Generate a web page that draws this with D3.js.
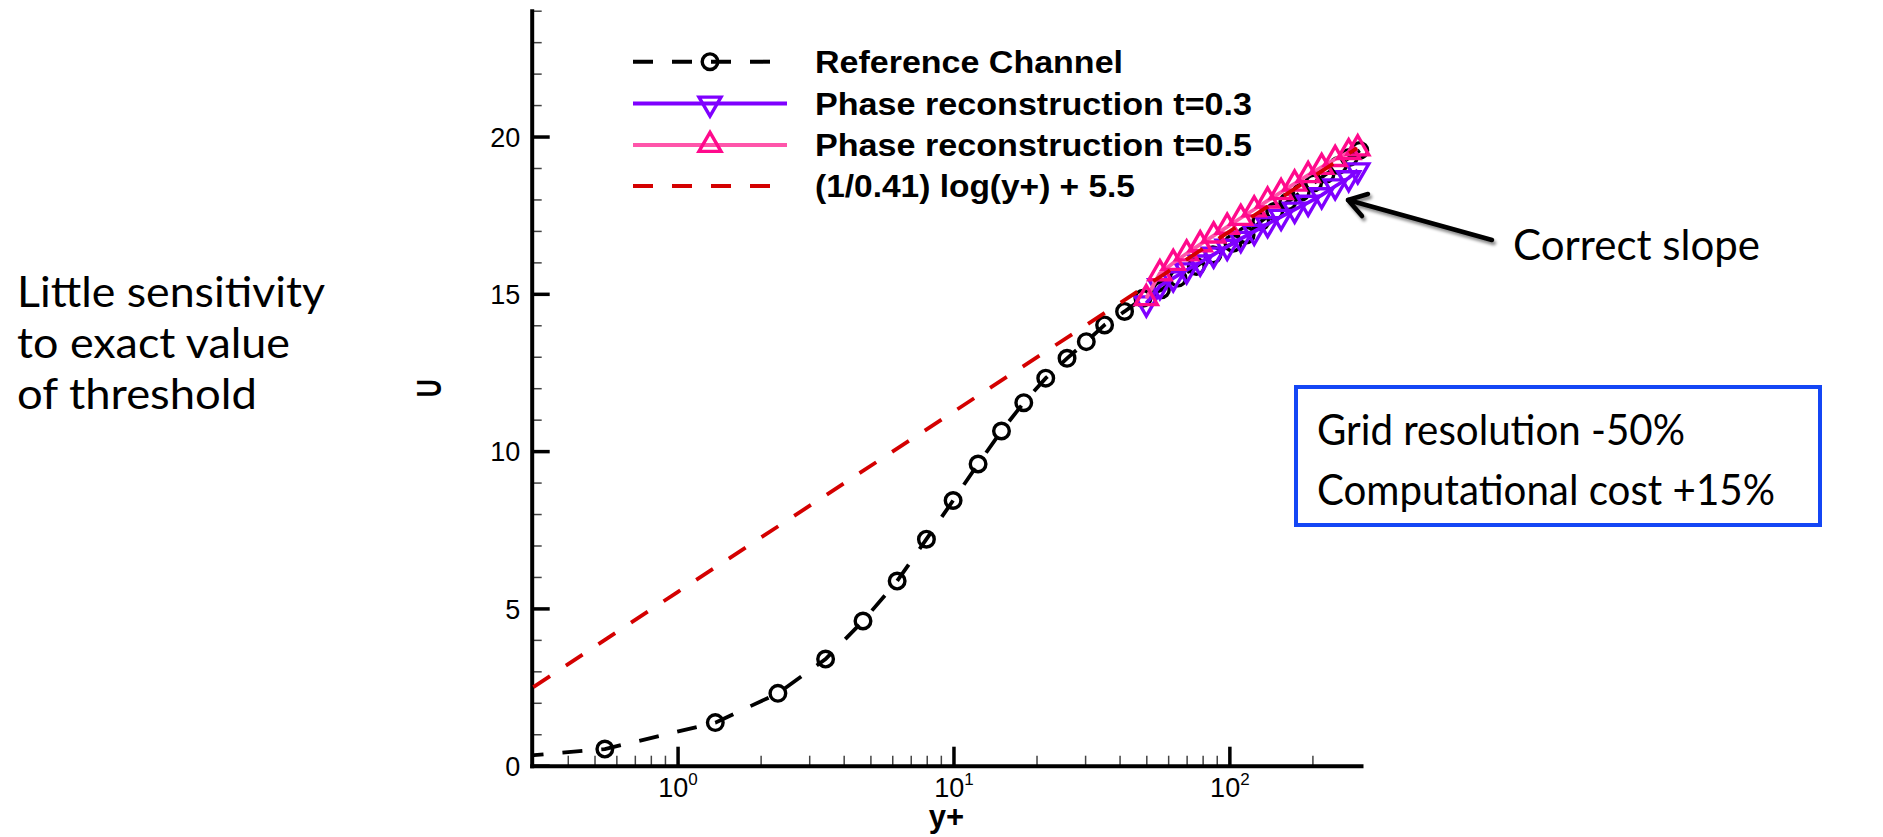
<!DOCTYPE html>
<html><head><meta charset="utf-8">
<script src="https://cdn.jsdelivr.net/npm/d3@7/dist/d3.min.js"></script>
<style>body{margin:0;background:#fff;} svg{display:block;}</style>
</head><body>
<svg id="c" width="1883" height="837"></svg>
<script>
// ---------------- data ----------------
const refYplus = [0.2, 0.545, 1.37, 2.31, 3.44, 4.70, 6.25, 7.98, 9.97, 12.28, 14.93, 17.98, 21.6, 25.8, 30.3, 35.3, 41.7, 48.6, 56.7, 65.1, 75.9, 87.2, 103, 115, 130, 146, 163, 182, 202, 224, 248, 272, 297];
const refU     = [0.2, 0.53, 1.37, 2.30, 3.39, 4.60, 5.87, 7.20, 8.43, 9.59, 10.64, 11.54, 12.32, 12.95, 13.48, 14.01, 14.44, 14.86, 15.13, 15.50, 15.87, 16.24, 16.61, 16.87, 17.30, 17.62, 17.93, 18.23, 18.52, 18.80, 19.08, 19.33, 19.56];

const phaseYplus = [50, 56, 62.6, 70, 78.4, 87.7, 98.2, 110, 123, 137.6, 154, 172.4, 193, 216, 241.8, 270.6, 292];
const phase03U   = [14.70, 15.25, 15.50, 15.75, 16.00, 16.25, 16.50, 16.75, 16.98, 17.22, 17.45, 17.68, 17.90, 18.14, 18.42, 18.68, 18.93];
const phase05U   = [14.86, 15.65, 15.98, 16.28, 16.57, 16.85, 17.13, 17.41, 17.68, 17.96, 18.23, 18.50, 18.77, 19.03, 19.28, 19.50, 19.62];

const logLawYplus = [0.3, 1, 10, 100, 290];
const logLawU     = [2.50, 5.52, 11.25, 16.98, 19.63];

const yMajorTicks = [0, 5, 10, 15, 20];
const yMinorTicks = [1,2,3,4,6,7,8,9,11,12,13,14,16,17,18,19,21,22,23,24];
const xMajorTicks = [1, 10, 100];
const xMinorTicks = [0.4,0.5,0.6,0.7,0.8,0.9,2,3,4,5,6,7,8,9,20,30,40,50,60,70,80,90,200];
const xExponents  = ["0", "1", "2"];

const legendLabels = ["Reference Channel", "Phase reconstruction t=0.3", "Phase reconstruction t=0.5", "(1/0.41) log(y+) + 5.5"];
const sideNote = ["Little sensitivity", "to exact value", "of threshold"];
const boxNote = ["Grid resolution -50%", "Computational cost +15%"];
const arrowNote = "Correct slope";

// ---------------- chart ----------------
const svg = d3.select("#c");
const helv = "'Liberation Sans', Arial, Helvetica, sans-serif";
const cal = "Lato, 'Open Sans', sans-serif";

const x = d3.scaleLog().domain([0.296, 300]).range([531.7, 1361]);
const y = d3.scaleLinear().domain([0, 24]).range([765.7, 10.7]);

const defs = svg.append("defs");
defs.append("clipPath").attr("id", "plotclip").append("rect")
  .attr("x", x.range()[0]).attr("y", 0).attr("width", x.range()[1] - x.range()[0] + 2).attr("height", y(0));
const f = defs.append("filter").attr("id", "shadow").attr("x", "-20%").attr("y", "-50%").attr("width", "140%").attr("height", "200%");
f.append("feDropShadow").attr("dx", 2).attr("dy", 3).attr("stdDeviation", 1.5).attr("flood-color", "#000").attr("flood-opacity", 0.45);

// axes
const yMinor = svg.append("g").attr("transform", `translate(${x.range()[0]},0)`)
  .call(d3.axisLeft(y).tickValues(yMinorTicks).tickSizeInner(-10).tickSizeOuter(0).tickFormat(""));
yMinor.select(".domain").remove();
yMinor.selectAll("line").attr("stroke", "#444").attr("stroke-width", 1.5);

const yAxis = svg.append("g").attr("transform", `translate(${x.range()[0]},0)`)
  .call(d3.axisLeft(y).tickValues(yMajorTicks).tickSizeInner(-18).tickSizeOuter(0).tickPadding(11.5).tickFormat(d3.format("d")));
yAxis.selectAll("line").attr("stroke", "#000").attr("stroke-width", 3.5);
yAxis.selectAll("text").attr("font-family", helv).attr("font-size", 27).attr("fill", "#000").attr("dy", "0.36em");

const xMinor = svg.append("g").attr("transform", `translate(0,${y(0)})`)
  .call(d3.axisBottom(x).tickValues(xMinorTicks).tickSizeInner(-10).tickSizeOuter(0).tickFormat(""));
xMinor.select(".domain").remove();
xMinor.selectAll("line").attr("stroke", "#444").attr("stroke-width", 1.5);

const xAxis = svg.append("g").attr("transform", `translate(0,${y(0)})`)
  .call(d3.axisBottom(x).tickValues(xMajorTicks).tickSizeInner(-19).tickSizeOuter(0).tickFormat(""));
xAxis.selectAll("line").attr("stroke", "#000").attr("stroke-width", 3.5);
xAxis.selectAll(".tick").each(function(d, i) {
  const t = d3.select(this).append("text").attr("y", 31).attr("text-anchor", "middle")
    .attr("font-family", helv).attr("font-size", 27).attr("fill", "#000");
  t.append("tspan").text("10");
  t.append("tspan").attr("font-size", 17).attr("dy", -12).text(xExponents[i]);
});

yAxis.select(".domain").attr("stroke", "#000").attr("stroke-width", 4).attr("stroke-linecap", "square");
xAxis.select(".domain").attr("stroke", "#000").attr("stroke-width", 4).attr("stroke-linecap", "square");

// axis titles
svg.append("text").attr("x", d3.mean(x.range())).attr("y", 827).attr("text-anchor", "middle")
  .attr("font-family", helv).attr("font-weight", "bold").attr("font-size", 31).text("y+");
svg.append("text").attr("transform", `translate(441,${d3.mean(y.range())}) rotate(-90) scale(1,1.4)`)
  .attr("text-anchor", "middle").attr("font-family", helv).attr("font-weight", "bold").attr("font-size", 25).text("U");

// series
const line = d3.line().x(d => x(d[0])).y(d => y(d[1]));
const plot = svg.append("g");

const refData = refYplus.map((v, i) => [v, refU[i]]);
const p03 = phaseYplus.map((v, i) => [v, phase03U[i]]);
const p05 = phaseYplus.map((v, i) => [v, phase05U[i]]);
const logData = logLawYplus.map((v, i) => [v, logLawU[i]]);

const cBlack = "#000", cPurple = "#7f00ff", cPinkLine = "#ff55aa", cPink = "#ff0a8c", cRed = "#d40000";
const triUp = d3.symbol().type(d3.symbolTriangle).size(210);
const mW = 3.4;

// reference
plot.append("path").datum(refData).attr("clip-path", "url(#plotclip)").attr("d", line)
  .attr("fill", "none").attr("stroke", cBlack).attr("stroke-width", 3.8).attr("stroke-dasharray", "20,19");
plot.append("g").selectAll("circle").data(refData.filter(d => d[0] >= x.domain()[0])).join("circle")
  .attr("cx", d => x(d[0])).attr("cy", d => y(d[1])).attr("r", 7.8)
  .attr("fill", "none").attr("stroke", cBlack).attr("stroke-width", mW);

// phase t=0.3
plot.append("path").datum(p03).attr("d", line).attr("fill", "none").attr("stroke", cPurple).attr("stroke-width", 3.8);
plot.append("g").selectAll("path").data(p03).join("path")
  .attr("transform", d => `translate(${x(d[0])},${y(d[1])}) rotate(180)`).attr("d", triUp)
  .attr("fill", "none").attr("stroke", cPurple).attr("stroke-width", mW);

// phase t=0.5
plot.append("path").datum(p05).attr("d", line).attr("fill", "none").attr("stroke", cPinkLine).attr("stroke-width", 3.8);
plot.append("g").selectAll("path").data(p05).join("path")
  .attr("transform", d => `translate(${x(d[0])},${y(d[1])})`).attr("d", triUp)
  .attr("fill", "none").attr("stroke", cPink).attr("stroke-width", mW);

// log law
plot.append("path").datum(logData).attr("clip-path", "url(#plotclip)").attr("d", line)
  .attr("fill", "none").attr("stroke", cRed).attr("stroke-width", 3.8).attr("stroke-dasharray", "20,19");

// legend
const legRowsY = [61.7, 103.5, 145, 186];
const legX1 = 633, legMark = 710, legTextX = 815;
const legWidths = [308, 437, 437, 320];
const leg = svg.append("g");
legendLabels.forEach((lab, i) => {
  const yy = legRowsY[i];
  if (i === 0 || i === 3) {
    leg.append("line").attr("x1", legX1).attr("x2", 770).attr("y1", yy).attr("y2", yy)
      .attr("stroke", i === 0 ? cBlack : cRed).attr("stroke-width", 4).attr("stroke-dasharray", "20,19");
  } else {
    leg.append("line").attr("x1", legX1).attr("x2", 787).attr("y1", yy).attr("y2", yy)
      .attr("stroke", i === 1 ? cPurple : cPinkLine).attr("stroke-width", 4);
  }
  if (i === 0) leg.append("circle").attr("cx", legMark).attr("cy", yy).attr("r", 7.8).attr("fill", "none").attr("stroke", cBlack).attr("stroke-width", mW);
  if (i === 1) leg.append("path").attr("transform", `translate(${legMark},${yy}) rotate(180)`).attr("d", triUp).attr("fill", "none").attr("stroke", cPurple).attr("stroke-width", mW);
  if (i === 2) leg.append("path").attr("transform", `translate(${legMark},${yy})`).attr("d", triUp).attr("fill", "none").attr("stroke", cPink).attr("stroke-width", mW);
  leg.append("text").attr("x", legTextX).attr("y", yy + 11).attr("font-family", helv).attr("font-weight", "bold")
    .attr("font-size", 31).attr("textLength", legWidths[i]).attr("lengthAdjust", "spacingAndGlyphs").text(lab);
});

// annotations
const sideY = [306.5, 358, 409];
const sideW = [308, 273, 240];
sideNote.forEach((s, i) => svg.append("text").attr("x", 17).attr("y", sideY[i]).attr("font-family", cal)
  .attr("font-size", 43).attr("textLength", sideW[i]).attr("lengthAdjust", "spacingAndGlyphs").attr("fill", "#000").text(s));

svg.append("text").attr("x", 1513).attr("y", 260).attr("font-family", cal).attr("font-size", 43)
  .attr("textLength", 247).attr("lengthAdjust", "spacingAndGlyphs").text(arrowNote);

const arrow = svg.append("g").attr("filter", "url(#shadow)").attr("stroke", "#000").attr("stroke-width", 4.5)
  .attr("fill", "none").attr("stroke-linecap", "round").attr("stroke-linejoin", "round");
arrow.append("line").attr("x1", 1492).attr("y1", 240).attr("x2", 1348).attr("y2", 200);
arrow.append("polyline").attr("points", "1368,194 1348,200 1362,216");

svg.append("rect").attr("x", 1296).attr("y", 387).attr("width", 524).attr("height", 138)
  .attr("fill", "none").attr("stroke", "#1446f5").attr("stroke-width", 4);
const boxY = [445, 505], boxW = [368, 458];
boxNote.forEach((s, i) => svg.append("text").attr("x", 1317).attr("y", boxY[i]).attr("font-family", cal)
  .attr("font-size", 43).attr("textLength", boxW[i]).attr("lengthAdjust", "spacingAndGlyphs").text(s));
</script>
</body></html>
